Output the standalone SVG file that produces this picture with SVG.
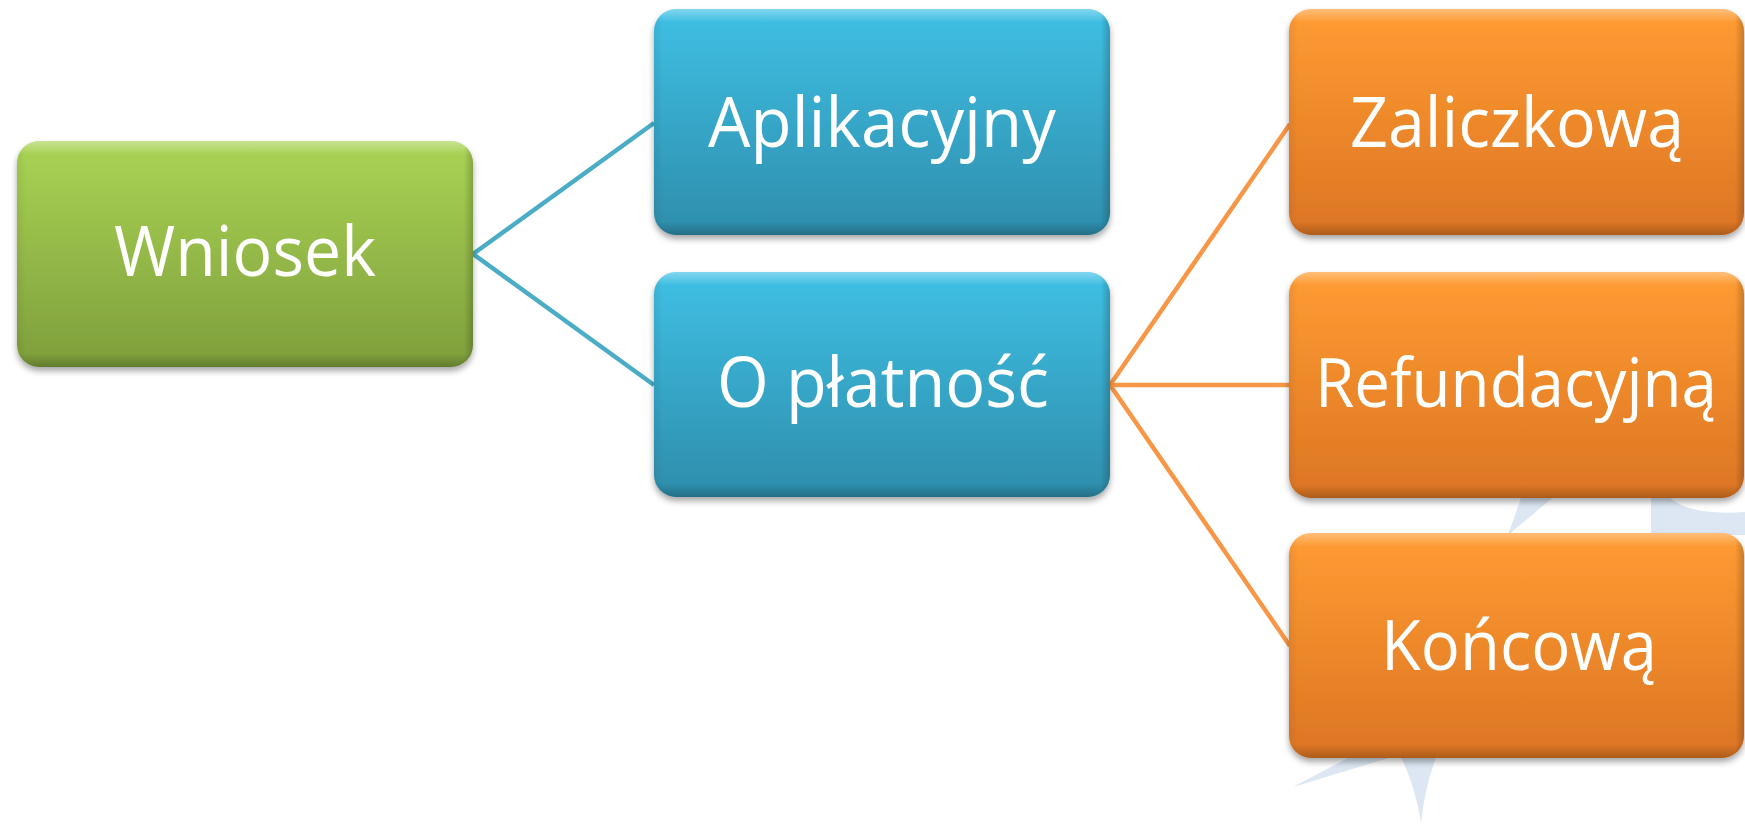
<svg xmlns="http://www.w3.org/2000/svg" width="1745" height="826" viewBox="0 0 1745 826">
  <defs>
    <linearGradient id="gGreen" x1="0" y1="0" x2="0" y2="1">
      <stop offset="0" stop-color="#AAD455"/>
      <stop offset="1" stop-color="#7E9E3B"/>
    </linearGradient>
    <linearGradient id="gBlue" x1="0" y1="0" x2="0" y2="1">
      <stop offset="0" stop-color="#3FC0E5"/>
      <stop offset="1" stop-color="#2E8DAB"/>
    </linearGradient>
    <linearGradient id="gOrange" x1="0" y1="0" x2="0" y2="1">
      <stop offset="0" stop-color="#FF9C32"/>
      <stop offset="1" stop-color="#DC7524"/>
    </linearGradient>
    <linearGradient id="gHi" x1="0" y1="0" x2="0" y2="1">
      <stop offset="0" stop-color="#FFFFFF" stop-opacity="0.35"/>
      <stop offset="0.06" stop-color="#FFFFFF" stop-opacity="0"/>
      <stop offset="0.94" stop-color="#000000" stop-opacity="0"/>
      <stop offset="1" stop-color="#000000" stop-opacity="0.22"/>
    </linearGradient>
    <linearGradient id="gSide" x1="0" y1="0" x2="1" y2="0">
      <stop offset="0" stop-color="#000000" stop-opacity="0.06"/>
      <stop offset="0.02" stop-color="#000000" stop-opacity="0"/>
      <stop offset="0.98" stop-color="#000000" stop-opacity="0"/>
      <stop offset="1" stop-color="#000000" stop-opacity="0.2"/>
    </linearGradient>
    <filter id="shadow" x="-5%" y="-5%" width="110%" height="115%">
      <feDropShadow dx="0" dy="4" stdDeviation="3" flood-color="#000000" flood-opacity="0.35"/>
    </filter>
  </defs>
  <style>
    .box { filter: url(#shadow); }
    .green { fill: url(#gGreen); }
    .blue { fill: url(#gBlue); }
    .orange { fill: url(#gOrange); }
    .hi { fill: url(#gHi); }
    .side { fill: url(#gSide); }
    .lbl { font-family: "Open Sans", "Noto Sans", "DejaVu Sans", sans-serif; font-size: 70px; fill: #FFFFFF; text-anchor: middle; }
    .cBlue { stroke: #4BACC6; stroke-width: 4.5; fill: none; }
    .cOrange { stroke: #F79646; stroke-width: 4.5; fill: none; }
    .deco { fill: #DCE7F3; }
  </style>
  <rect width="1745" height="826" fill="#FFFFFF"/>

  <g id="background-decoration">
    <polygon class="deco" points="1508,535 1522,495 1556,495"/>
    <path class="deco" d="M1651,535 L1651,496 L1668,496 Q1688,516 1745,512 L1745,535 Z"/>
    <polygon class="deco" points="1293,787 1350,757 1392,757"/>
    <path class="deco" d="M1400,755 L1437,755 Q1425,785 1421,823 Q1415,785 1400,755 Z"/>
  </g>

  <g id="connectors">
    <line class="cBlue" x1="473" y1="254" x2="654" y2="123"/>
    <line class="cBlue" x1="473" y1="254" x2="654" y2="385"/>
    <line class="cOrange" x1="1110" y1="385" x2="1290" y2="124"/>
    <line class="cOrange" x1="1110" y1="385" x2="1290" y2="385"/>
    <line class="cOrange" x1="1110" y1="385" x2="1290" y2="646"/>
  </g>

  <g id="node-wniosek">
    <rect class="box green" x="17" y="141" width="456" height="226" rx="22"/>
    <rect class="hi" x="17" y="141" width="456" height="226" rx="22"/>
    <rect class="side" x="17" y="141" width="456" height="226" rx="22"/>
    <text class="lbl" x="245" y="276" textLength="262" lengthAdjust="spacingAndGlyphs">Wniosek</text>
  </g>

  <g id="node-aplikacyjny">
    <rect class="box blue" x="654" y="9" width="456" height="226" rx="22"/>
    <rect class="hi" x="654" y="9" width="456" height="226" rx="22"/>
    <rect class="side" x="654" y="9" width="456" height="226" rx="22"/>
    <text class="lbl" x="882" y="147" textLength="348" lengthAdjust="spacingAndGlyphs">Aplikacyjny</text>
  </g>

  <g id="node-oplatnosc">
    <rect class="box blue" x="654" y="272" width="456" height="225" rx="22"/>
    <rect class="hi" x="654" y="272" width="456" height="225" rx="22"/>
    <rect class="side" x="654" y="272" width="456" height="225" rx="22"/>
    <text class="lbl" x="883" y="407" textLength="332" lengthAdjust="spacingAndGlyphs">O płatność</text>
  </g>

  <g id="node-zaliczkowa">
    <rect class="box orange" x="1289" y="9" width="455" height="226" rx="22"/>
    <rect class="hi" x="1289" y="9" width="455" height="226" rx="22"/>
    <rect class="side" x="1289" y="9" width="455" height="226" rx="22"/>
    <text class="lbl" x="1517" y="147" textLength="334" lengthAdjust="spacingAndGlyphs">Zaliczkową</text>
  </g>

  <g id="node-refundacyjna">
    <rect class="box orange" x="1289" y="272" width="455" height="226" rx="22"/>
    <rect class="hi" x="1289" y="272" width="455" height="226" rx="22"/>
    <rect class="side" x="1289" y="272" width="455" height="226" rx="22"/>
    <text class="lbl" x="1516" y="407" style="font-size:68px" textLength="402" lengthAdjust="spacingAndGlyphs">Refundacyjną</text>
  </g>

  <g id="node-koncowa">
    <rect class="box orange" x="1289" y="533" width="455" height="225" rx="22"/>
    <rect class="hi" x="1289" y="533" width="455" height="225" rx="22"/>
    <rect class="side" x="1289" y="533" width="455" height="225" rx="22"/>
    <text class="lbl" x="1519" y="670" textLength="276" lengthAdjust="spacingAndGlyphs">Końcową</text>
  </g>
</svg>
